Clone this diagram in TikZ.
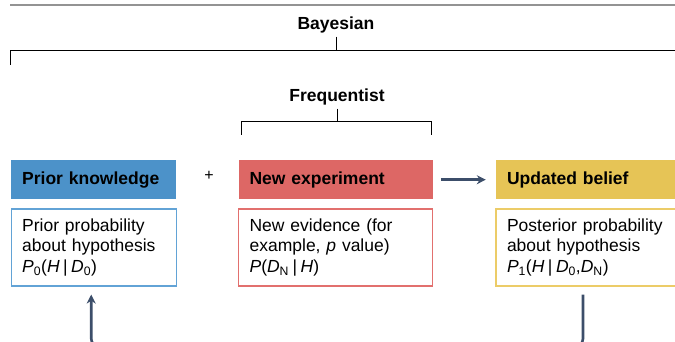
\documentclass[tikz,border=0pt]{standalone}
\usepackage{fontspec}
\setmainfont{Liberation Sans}
\usetikzlibrary{arrows.meta,positioning,calc}

\definecolor{priorblue}{RGB}{76,146,201}
\definecolor{priorline}{RGB}{98,163,214}
\definecolor{newred}{RGB}{221,103,101}
\definecolor{newline}{RGB}{226,112,110}
\definecolor{postyellow}{RGB}{230,196,86}
\definecolor{postline}{RGB}{236,204,104}
\definecolor{arrowblue}{RGB}{60,78,106}

\newcommand{\givenbar}{\hspace{3.5pt}|\hspace{3.5pt}}

\begin{document}
\begin{tikzpicture}[
            x=1pt,
            y=-1pt,
            header/.style={
                    rectangle,
                    anchor=north west,
                    minimum height=39pt,
                    inner xsep=11pt,
                    inner ysep=0pt,
                    align=left,
                    font=\fontsize{17.5}{20.5}\selectfont\bfseries
                },
            bodybox/.style={
                    rectangle,
                    line width=1.2pt,
                    minimum height=77pt,
                    inner xsep=11pt,
                    align=left,
                    font=\fontsize{17.5}{20.5}\selectfont
                },
            grouplabel/.style={
                    font=\fontsize{17.5}{20.5}\selectfont\bfseries
                },
            bracket/.style={
                    draw=black,
                    line width=0.9pt
                },
            flow/.style={
                    draw=arrowblue,
                    line width=2.6pt,
                    -{Stealth[length=9pt,width=9pt]}
                }
        ]

        \useasboundingbox (0,0) rectangle (675,342);
        \clip (0,0) rectangle (675,342);

        \draw[draw=gray!85, line width=1.6pt] (10,5) -- (675,5);

        % groups
        \node[grouplabel] (bayes) at (336,25) {Bayesian};
        \coordinate (bayesbar) at (10,50);
        \draw[bracket] (10,65) |- (700,50) -- (700,65);
        \draw[bracket] (bayes.south) -- (bayes.south |- bayesbar);

        \node[grouplabel] (freq) at (337,97) {Frequentist};
        \coordinate (freqbar) at (241,121);
        \draw[bracket] (241,135) |- (431,121) -- (431,135);
        \draw[bracket] (freq.south) -- (freq.south |- freqbar);

        % headers
        \node[header, fill=priorblue, text width=143pt] (priorhead) at (11,160) {Prior knowledge};
        \node[header, fill=newred, text width=172pt, right=62pt of priorhead] (newhead) {New experiment};
        \node[header, fill=postyellow, text width=172pt, right=63pt of newhead] (posthead) {Updated belief};

        % boxes
        \node[bodybox, draw=priorline, text width=143pt, below=9pt of priorhead] (priorbox)
        {Prior probability\\about hypothesis\\\textit{P}\textsubscript{0}(\textit{H}\givenbar\textit{D}\textsubscript{0})};
        \node[bodybox, draw=newline, text width=172pt, below=9pt of newhead] (newbox)
        {New evidence (for\\example, \textit{p} value)\\\textit{P}(\textit{D}\textsubscript{N}\givenbar\textit{H})};
        \node[bodybox, draw=postline, text width=172pt, below=9pt of posthead] (postbox)
        {Posterior probability\\about hypothesis\\\textit{P}\textsubscript{1}(\textit{H}\givenbar\textit{D}\textsubscript{0},\textit{D}\textsubscript{N})};

        \node[font=\fontsize{16}{16}\selectfont] (plus) at (209,176) {+};

        \draw[flow, shorten <=8pt, shorten >=10pt] (newhead) -- (posthead);
        \draw[flow, rounded corners=8pt] ($(postbox.south)+(-10,8)$) -- ++(0,52) -| ($(priorbox.south)+(-2.5,8)$);

    \end{tikzpicture}
\end{document}
